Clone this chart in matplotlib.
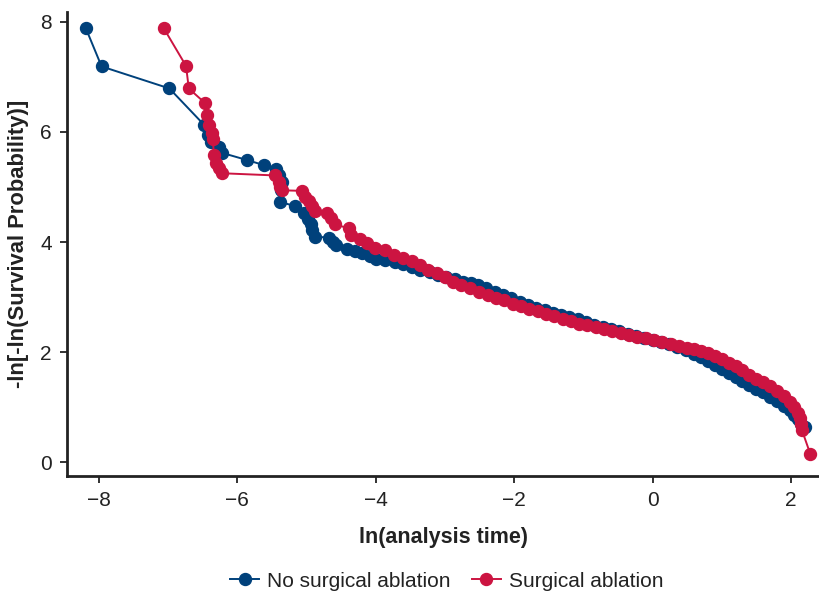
import matplotlib
matplotlib.use("Agg")
import matplotlib.pyplot as plt

# Данные: ln(время) и -ln[-ln(S)] для двух групп
no_ablation_x = [
    -8.19, -7.96, -6.98, -6.48, -6.42, -6.38, -6.26, -6.22, -5.86, -5.62,
    -5.44, -5.39, -5.36, -5.37, -5.38, -5.16, -5.04, -4.98, -4.94, -4.92,
    -4.88, -4.68, -4.62, -4.58, -4.42, -4.30, -4.20, -4.08, -4.00, -3.86,
    -3.72, -3.60, -3.48, -3.36, -3.22, -3.10, -2.98, -2.86, -2.74, -2.62,
    -2.52, -2.40, -2.28, -2.16, -2.04, -1.92, -1.80, -1.68, -1.56, -1.44,
    -1.32, -1.20, -1.08, -0.96, -0.84, -0.72, -0.60, -0.48, -0.36, -0.24,
    -0.12, 0.00, 0.12, 0.24, 0.36, 0.48, 0.60, 0.70, 0.80, 0.90,
    1.00, 1.10, 1.20, 1.30, 1.40, 1.50, 1.60, 1.70, 1.80, 1.90,
    1.98, 2.05, 2.10, 2.15, 2.20,
]
no_ablation_y = [
    7.89, 7.19, 6.79, 6.13, 5.95, 5.82, 5.72, 5.62, 5.49, 5.40,
    5.32, 5.22, 5.10, 4.95, 4.73, 4.65, 4.52, 4.42, 4.32, 4.22,
    4.10, 4.08, 4.00, 3.95, 3.88, 3.84, 3.80, 3.74, 3.70, 3.67,
    3.64, 3.60, 3.55, 3.50, 3.45, 3.40, 3.36, 3.32, 3.28, 3.25,
    3.22, 3.16, 3.10, 3.04, 2.98, 2.92, 2.86, 2.80, 2.76, 2.72,
    2.68, 2.64, 2.60, 2.55, 2.50, 2.46, 2.42, 2.38, 2.33, 2.29,
    2.25, 2.22, 2.18, 2.14, 2.09, 2.04, 1.97, 1.91, 1.84, 1.77,
    1.70, 1.63, 1.55, 1.48, 1.40, 1.33, 1.27, 1.19, 1.11, 1.02,
    0.95, 0.86, 0.78, 0.70, 0.64,
]

ablation_x = [
    -7.06, -6.74, -6.70, -6.47, -6.43, -6.41, -6.37, -6.35, -6.34, -6.30,
    -6.27, -6.22, -5.45, -5.40, -5.38, -5.35, -5.06, -5.02, -4.97, -4.92,
    -4.87, -4.70, -4.64, -4.59, -4.39, -4.35, -4.22, -4.13, -4.01, -3.87,
    -3.73, -3.60, -3.48, -3.36, -3.24, -3.12, -3.00, -2.88, -2.76, -2.64,
    -2.50, -2.38, -2.26, -2.14, -2.02, -1.90, -1.78, -1.66, -1.54, -1.42,
    -1.30, -1.18, -1.06, -0.94, -0.82, -0.70, -0.58, -0.46, -0.34, -0.22,
    -0.10, 0.02, 0.14, 0.26, 0.38, 0.50, 0.60, 0.70, 0.80, 0.90,
    1.00, 1.10, 1.20, 1.30, 1.40, 1.50, 1.60, 1.70, 1.80, 1.90,
    1.98, 2.05, 2.10, 2.13, 2.15, 2.16, 2.28,
]
ablation_y = [
    7.88, 7.20, 6.79, 6.53, 6.31, 6.13, 5.98, 5.87, 5.58, 5.44,
    5.34, 5.25, 5.21, 5.10, 5.00, 4.94, 4.93, 4.82, 4.74, 4.65,
    4.56, 4.52, 4.43, 4.32, 4.25, 4.12, 4.06, 3.98, 3.90, 3.85,
    3.77, 3.71, 3.66, 3.58, 3.50, 3.44, 3.36, 3.28, 3.22, 3.16,
    3.10, 3.04, 2.99, 2.94, 2.88, 2.83, 2.78, 2.74, 2.70, 2.65,
    2.60, 2.56, 2.52, 2.49, 2.45, 2.42, 2.38, 2.35, 2.31, 2.28,
    2.25, 2.22, 2.18, 2.15, 2.11, 2.08, 2.05, 2.02, 1.98, 1.93,
    1.87, 1.80, 1.74, 1.67, 1.59, 1.52, 1.45, 1.38, 1.29, 1.20,
    1.10, 1.00, 0.90, 0.80, 0.70, 0.58, 0.15,
]

x_ticks = [-8, -6, -4, -2, 0, 2]
y_ticks = [0, 2, 4, 6, 8]

BLUE = "#00417B"
RED = "#CC1441"
DARK = "#222222"

plt.rcParams["font.family"] = ["Liberation Sans", "DejaVu Sans"]
plt.rcParams["font.size"] = 15

fig = plt.figure(figsize=(8.2, 5.98), dpi=100)
ax = fig.add_axes([0.0817, 0.204, 0.9183, 0.776])

ax.plot(no_ablation_x, no_ablation_y, color=BLUE, linewidth=1.4,
        marker="o", markersize=8.6, label="No surgical ablation")
ax.plot(ablation_x, ablation_y, color=RED, linewidth=1.4,
        marker="o", markersize=8.6, label="Surgical ablation")

# Оформление осей
ax.set_xlim(-8.46, 2.42)
ax.set_ylim(-0.25, 8.18)
ax.set_xticks(x_ticks)
ax.set_yticks(y_ticks)
ax.spines["right"].set_visible(False)
ax.spines["top"].set_visible(False)
for side in ("left", "bottom"):
    ax.spines[side].set_linewidth(2.0)
    ax.spines[side].set_color(DARK)
ax.tick_params(direction="out", length=5, width=1.3, colors=DARK,
               labelsize=15, pad=6)

ax.set_xlabel("ln(analysis time)", fontweight="bold", fontsize=15.5,
              color=DARK, labelpad=12)
ax.set_ylabel("-ln[-ln(Survival Probability)]", fontweight="bold",
              fontsize=15.8, color=DARK, labelpad=8)

fig.legend(loc="center", bbox_to_anchor=(0.545, 0.028), ncol=2,
           frameon=False, fontsize=15, handlelength=1.4,
           columnspacing=1.0, handletextpad=0.4, labelcolor=DARK)

fig.savefig("out.png", dpi=100)
